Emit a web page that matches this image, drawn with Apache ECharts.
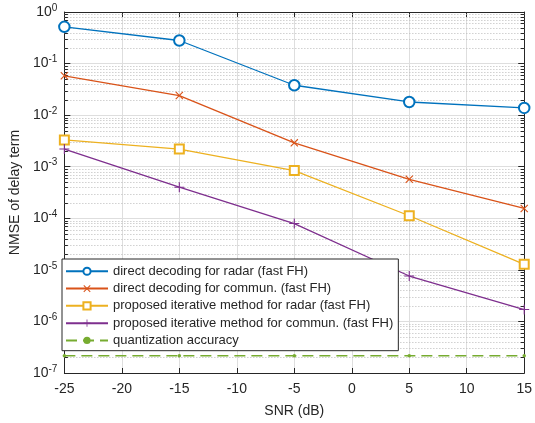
<!DOCTYPE html>
<html><head><meta charset="utf-8">
<script src="https://cdn.jsdelivr.net/npm/echarts@6/dist/echarts.min.js"></script>
<style>html,body{margin:0;padding:0;background:#fff}#c{width:535px;height:423px}</style>
</head><body><div id="c"></div>
<script>
const snr = [-25, -15, -5, 5, 15];
const radarDirect = [0.515, 0.28, 0.038, 0.018, 0.0138];
const communDirect = [0.058, 0.024, 0.0029, 0.00057, 0.000155];
const radarProposed = [0.0033, 0.0022, 0.00084, 0.000112, 0.0000128];
const communProposed = [0.0022, 0.0004, 0.000079, 0.0000076, 0.0000017];
const quantAcc = [2.15e-7, 2.15e-7, 2.15e-7, 2.15e-7, 2.15e-7];
const seriesNames = [
  'direct decoding for radar (fast FH)',
  'direct decoding for commun. (fast FH)',
  'proposed iterative method for radar (fast FH)',
  'proposed iterative method for commun. (fast FH)',
  'quantization accuracy'
];
const colors = ['#0072BD', '#D95319', '#EDB120', '#7E2F8E', '#77AC30'];
const yDecades = [-7, -6, -5, -4, -3, -2, -1, 0];

const font = 'Liberation Sans, Arial, Helvetica, sans-serif';
const axisCol = '#262626';

// minor grid positions 2..9 x 10^e
const minorVals = [];
for (let e = -7; e < 0; e++) for (let k = 2; k <= 9; k++) minorVals.push(k * Math.pow(10, e));

const pair = (arr) => snr.map((x, i) => [x, arr[i]]);
const xPath = 'path://M0,1 L1,0 L10,9 L9,10 Z M9,0 L10,1 L1,10 L0,9 Z';
const plusPath = 'path://M4.45,0 H5.55 V10 H4.45 Z M0,4.45 H10 V5.55 H0 Z';

const mk = (name, data, color, symbol, size, extra) => Object.assign({
  name, type: 'line', data: pair(data), symbol, symbolSize: size,
  xAxisIndex: 0, yAxisIndex: 0,
  lineStyle: { color, width: 1.3 },
  itemStyle: { color, borderColor: color, borderWidth: 1.3 },
  emphasis: { disabled: true }, animation: false, z: 5
}, extra || {});

const minorSeries = {
  type: 'custom', name: 'minorGrid', silent: true, animation: false, z: 1,
  xAxisIndex: 0, yAxisIndex: 0, clip: false,
  data: minorVals.map(v => [-25, v]),
  renderItem: (params, api) => {
    const cs = params.coordSys;
    const y = Math.round(api.coord([-25, api.value(1)])[1]) + 0.5;
    const x0 = cs.x, x1 = cs.x + cs.width;
    return { type: 'group', children: [
      { type: 'line', shape: { x1: x0, y1: y, x2: x1, y2: y },
        style: { stroke: '#b9b9b9', lineWidth: 1, lineDash: [1, 2] } },
      { type: 'line', shape: { x1: x0, y1: y, x2: x0 + 3.5, y2: y },
        style: { stroke: axisCol, lineWidth: 1 }, z2: 10 },
      { type: 'line', shape: { x1: x1 - 3.5, y1: y, x2: x1, y2: y },
        style: { stroke: axisCol, lineWidth: 1 }, z2: 10 }
    ] };
  }
};

const series = [
  minorSeries,
  mk(seriesNames[0], radarDirect, colors[0], 'emptyCircle', 10.5),
  mk(seriesNames[1], communDirect, colors[1], xPath, 8, { itemStyle: { color: colors[1], borderWidth: 0 } }),
  mk(seriesNames[2], radarProposed, colors[2], 'emptyRect', 9),
  mk(seriesNames[3], communProposed, colors[3], plusPath, 10, { itemStyle: { color: colors[3], borderWidth: 0 } }),
  mk(seriesNames[4], quantAcc, colors[4], 'circle', 3.5, {
    lineStyle: { color: colors[4], width: 1.5, type: [11, 6] },
    itemStyle: { color: colors[4], borderWidth: 0 }
  })
];

const supMap = { sup: { fontSize: 10, verticalAlign: 'top', padding: [0, 0, 8, 0], color: axisCol, fontFamily: font } };

const legendData = seriesNames.map((n, i) => i === 4 ? { name: n, itemStyle: { opacity: 1 } } : n);

const chart = echarts.init(document.getElementById('c'), null, { renderer: 'canvas' });
chart.setOption({
  backgroundColor: '#fff',
  animation: false,
  textStyle: { fontFamily: font },
  grid: { left: 62, right: 9, top: 12, bottom: 45, containLabel: false },
  legend: {
    orient: 'vertical', left: 62, top: 259,
    backgroundColor: '#fff', borderColor: axisCol, borderWidth: 1, borderRadius: 0,
    padding: [5.5, 5, 3.5, 3], itemWidth: 42, itemHeight: 9, itemGap: 3.8,
    textStyle: { fontSize: 13, color: axisCol, fontFamily: font, lineHeight: 13.5 },
    data: legendData, selectedMode: false, z: 10
  },
  xAxis: [{
    type: 'value', min: -25, max: 15, interval: 5,
    name: 'SNR (dB)', nameLocation: 'middle', nameGap: 31,
    nameTextStyle: { fontSize: 14, color: axisCol, fontFamily: font },
    axisLine: { show: true, onZero: false, lineStyle: { color: axisCol, width: 1 } },
    axisTick: { show: true, inside: true, length: 5, lineStyle: { color: axisCol } },
    axisLabel: { fontSize: 14, color: axisCol, margin: 9, fontFamily: font },
    splitLine: { show: true, lineStyle: { color: '#dedede', width: 1 } }
  }, {
    type: 'value', min: -25, max: 15, interval: 5, position: 'top',
    axisLine: { show: true, onZero: false, lineStyle: { color: axisCol, width: 1 } },
    axisTick: { show: true, inside: true, length: 5, lineStyle: { color: axisCol } },
    axisLabel: { show: false }, splitLine: { show: false }
  }],
  yAxis: [{
    type: 'log', logBase: 10, min: 1e-7, max: 1,
    name: 'NMSE of delay term', nameLocation: 'middle', nameGap: 41,
    nameTextStyle: { fontSize: 14, color: axisCol, fontFamily: font },
    axisLine: { show: true, onZero: false, lineStyle: { color: axisCol, width: 1 } },
    axisTick: { show: true, inside: true, length: 6, lineStyle: { color: axisCol } },
    axisLabel: {
      fontSize: 14, color: axisCol, margin: 7, fontFamily: font,
      formatter: v => { const e = Math.round(Math.log10(v)); return yDecades.includes(e) ? '10{sup|' + e + '}' : ''; },
      rich: supMap
    },
    splitLine: { show: true, lineStyle: { color: '#dedede', width: 1 } }
  }, {
    type: 'log', logBase: 10, min: 1e-7, max: 1, position: 'right',
    axisLine: { show: true, onZero: false, lineStyle: { color: axisCol, width: 1 } },
    axisTick: { show: true, inside: true, length: 6, lineStyle: { color: axisCol } },
    axisLabel: { show: false }, splitLine: { show: false }
  }],
  series
});
</script></body></html>
